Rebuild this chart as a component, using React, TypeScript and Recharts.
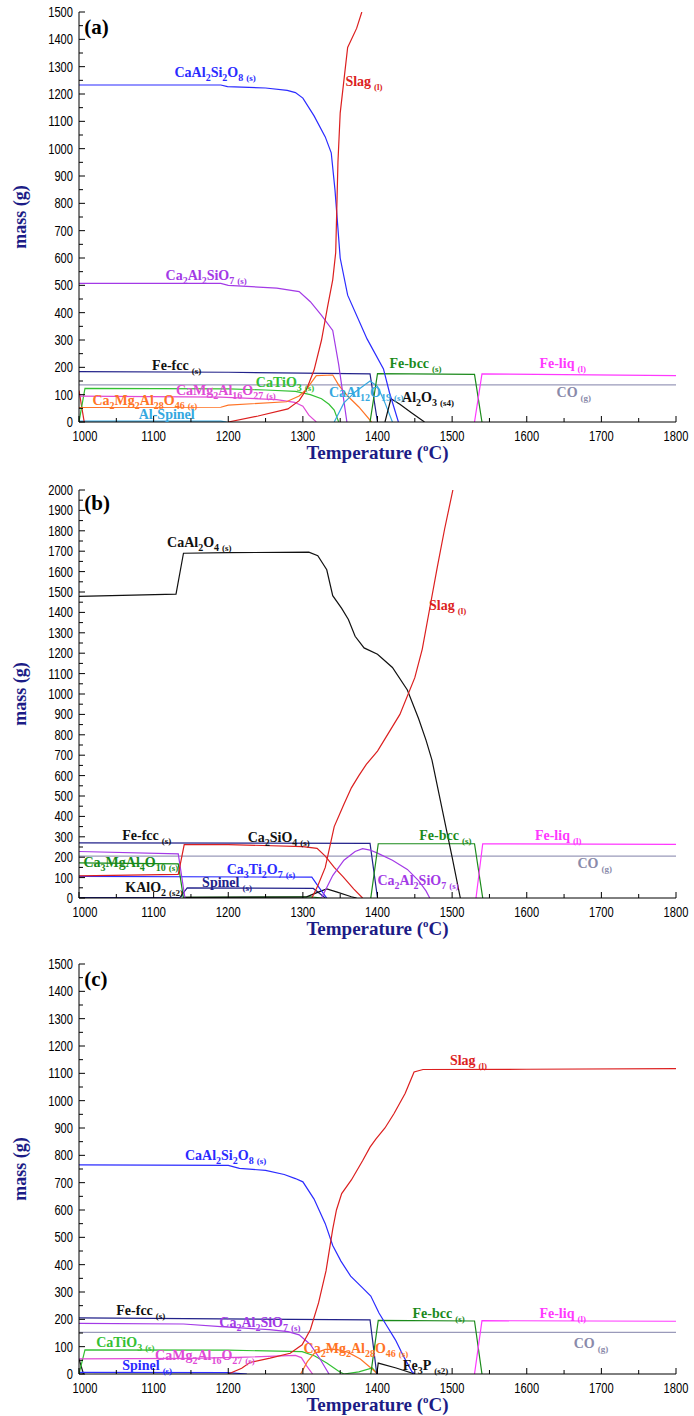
import React from 'react';
import { LineChart, Line, XAxis, YAxis, ReferenceDot } from 'recharts';

type Pt = [number, number];

// ---------- tick values ----------
const xMajor = [1000, 1100, 1200, 1300, 1400, 1500, 1600, 1700, 1800];
const yMajor1500 = [0, 100, 200, 300, 400, 500, 600, 700, 800, 900, 1000, 1100, 1200, 1300, 1400, 1500];
const yMajor2000 = [0, 100, 200, 300, 400, 500, 600, 700, 800, 900, 1000, 1100, 1200, 1300, 1400, 1500, 1600, 1700, 1800, 1900, 2000];

// ---------- panel (a) ----------
const a_CaAl2Si2O8: Pt[] = [[1000, 1233], [1190, 1233], [1199, 1227], [1250, 1222], [1279, 1213], [1290, 1205], [1300, 1185], [1315, 1120], [1330, 1043], [1338, 985], [1343, 850], [1350, 600], [1360, 464], [1386, 304], [1408, 194], [1416, 108], [1428, 0]];
const a_SlagLow: Pt[] = [[1000, 115], [1007, 0]];
const a_Slag: Pt[] = [[1200, 0], [1240, 22], [1280, 48], [1295, 78], [1305, 120], [1315, 190], [1325, 300], [1333, 420], [1340, 520], [1344, 620], [1347, 950], [1350, 1130], [1360, 1370], [1372, 1440], [1379, 1500]];
const a_Ca2Al2SiO7: Pt[] = [[1000, 507], [1190, 507], [1200, 500], [1265, 490], [1295, 477], [1310, 440], [1325, 390], [1340, 335], [1348, 210], [1359, 0]];
const a_FeFcc: Pt[] = [[1000, 184], [1200, 182], [1300, 179], [1390, 176], [1400, 0]];
const a_FeBcc: Pt[] = [[1390, 0], [1400, 177], [1530, 174], [1540, 0]];
const a_FeLiq: Pt[] = [[1530, 0], [1540, 176], [1800, 170]];
const a_CO: Pt[] = [[1000, 136], [1800, 136]];
const a_CaTiO3: Pt[] = [[1000, 0], [1008, 123], [1200, 121], [1250, 117], [1290, 112], [1310, 100], [1325, 85], [1335, 65], [1342, 44], [1348, 0]];
const a_CaMg2Al16O27: Pt[] = [[1000, 95], [1190, 91], [1265, 82], [1289, 72], [1300, 58], [1308, 25], [1318, 0]];
const a_Ca2Mg2Al28O46: Pt[] = [[1000, 53], [1190, 54], [1200, 62], [1278, 74], [1295, 95], [1305, 120], [1318, 170], [1340, 172], [1348, 135], [1360, 95], [1375, 55], [1392, 0]];
const a_AlSpinel: Pt[] = [[1000, 3], [1190, 3], [1198, 0]];
const a_CaAl12O19: Pt[] = [[1342, 0], [1355, 70], [1370, 110], [1390, 150], [1400, 130], [1410, 70], [1420, 0]];
const a_Al2O3: Pt[] = [[1410, 0], [1418, 85], [1430, 65], [1445, 35], [1463, 0]];

// ---------- panel (b) ----------
const b_CaAl2O4: Pt[] = [[1000, 1479], [1130, 1490], [1140, 1690], [1200, 1693], [1308, 1695], [1320, 1678], [1332, 1609], [1340, 1482], [1352, 1420], [1361, 1365], [1370, 1283], [1382, 1226], [1400, 1195], [1420, 1130], [1440, 1020], [1455, 880], [1465, 774], [1473, 676], [1500, 200], [1511, 0]];
const b_Slag: Pt[] = [[1312, 0], [1320, 60], [1330, 150], [1342, 350], [1355, 460], [1365, 540], [1375, 600], [1385, 655], [1400, 720], [1410, 780], [1430, 900], [1450, 1080], [1460, 1220], [1471, 1440], [1480, 1620], [1490, 1810], [1501, 2000]];
const b_FeFcc: Pt[] = [[1000, 270], [1390, 268], [1400, 0]];
const b_Ca2SiO4: Pt[] = [[1000, 108], [1133, 116], [1141, 262], [1200, 262], [1300, 252], [1319, 243], [1330, 205], [1342, 150], [1354, 104], [1368, 45], [1380, 0]];
const b_Ca2Al2SiO7Low: Pt[] = [[1000, 228], [1133, 216], [1142, 0]];
const b_Ca2Al2SiO7: Pt[] = [[1325, 0], [1340, 110], [1355, 185], [1370, 228], [1380, 242], [1390, 235], [1400, 220], [1420, 185], [1440, 140], [1455, 85], [1465, 35], [1470, 0]];
const b_Ca3MgAl4O10: Pt[] = [[1000, 172], [1133, 167], [1140, 0]];
const b_Ca3MgAl4O10Trace: Pt[] = [[1140, 3], [1310, 6], [1325, 0]];
const b_Ca3Ti2O7: Pt[] = [[1000, 106], [1312, 102], [1322, 50], [1332, 0]];
const b_Spinel: Pt[] = [[1000, 2], [1135, 2], [1145, 50], [1314, 47], [1330, 0]];
const b_KAlO2: Pt[] = [[1140, 3], [1305, 6], [1318, 25], [1332, 45], [1345, 30], [1365, 6], [1372, 0]];
const b_FeBcc: Pt[] = [[1391, 0], [1401, 266], [1530, 266], [1541, 0]];
const b_FeLiq: Pt[] = [[1532, 0], [1541, 266], [1800, 263]];
const b_CO: Pt[] = [[1000, 205], [1800, 205]];

// ---------- panel (c) ----------
const c_Slag: Pt[] = [[1200, 0], [1218, 21], [1229, 42], [1256, 58], [1283, 76], [1299, 107], [1310, 162], [1321, 260], [1331, 377], [1340, 530], [1345, 600], [1352, 660], [1365, 710], [1380, 780], [1390, 830], [1398, 860], [1410, 900], [1422, 952], [1437, 1026], [1449, 1105], [1461, 1114], [1600, 1115], [1800, 1117]];
const c_CaAl2Si2O8: Pt[] = [[1000, 765], [1200, 763], [1215, 752], [1250, 745], [1275, 730], [1290, 715], [1300, 703], [1315, 640], [1330, 550], [1340, 470], [1351, 413], [1364, 358], [1380, 315], [1391, 285], [1402, 223], [1413, 174], [1424, 125], [1435, 64], [1446, 9], [1450, 0]];
const c_FeFcc: Pt[] = [[1000, 205], [1390, 198], [1399, 0]];
const c_Ca2Al2SiO7: Pt[] = [[1000, 185], [1140, 183], [1190, 173], [1255, 162], [1280, 155], [1295, 143], [1310, 108], [1323, 55], [1335, 0]];
const c_CaTiO3: Pt[] = [[1000, 0], [1008, 88], [1200, 87], [1299, 82], [1316, 66], [1332, 40], [1348, 10], [1355, 0], [1375, 8], [1393, 22], [1400, 0]];
const c_CaMg2Al16O27: Pt[] = [[1000, 55], [1150, 57], [1225, 62], [1290, 68], [1298, 60], [1305, 30], [1313, 0]];
const c_Ca2Mg2Al28O46: Pt[] = [[1297, 0], [1306, 45], [1315, 75], [1330, 90], [1345, 90], [1360, 80], [1377, 55], [1390, 25], [1400, 0]];
const c_Spinel: Pt[] = [[1000, 6], [1200, 5], [1225, 0]];
const c_Fe3P: Pt[] = [[1399, 0], [1401, 40], [1425, 22], [1450, 0]];
const c_Trace: Pt[] = [[1000, 55], [1006, 0]];
const c_FeBcc: Pt[] = [[1391, 0], [1401, 196], [1530, 194], [1540, 0]];
const c_FeLiq: Pt[] = [[1530, 0], [1540, 195], [1800, 193]];
const c_CO: Pt[] = [[1000, 152], [1800, 152]];

// ---------- styles ----------
const NAVY = '#1c1c86';
const BLUE = '#2b2bff';
const RED = '#dc1f1f';
const PURPLE = '#a33ae6';
const FCC = '#22228a';
const BCC = '#1b8a1b';
const LIQ = '#ff38ff';
const COC = '#9a9aba';
const COL = '#8a8aaa';
const TIO = '#33c033';
const PINK = '#e04ad6';
const ORANGE = '#ff7426';
const LBLUE = '#35a8e0';
const BLACK = '#111111';
const DGREEN = '#148c14';

type Series = { d: Pt[]; c: string };
type Lab = { t: number; m: number; f: string; ph?: string; c: string };

const seriesA: Series[] = [
  { d: a_CO, c: COC },
  { d: a_AlSpinel, c: LBLUE },
  { d: a_SlagLow, c: RED },
  { d: a_CaTiO3, c: TIO },
  { d: a_CaMg2Al16O27, c: PINK },
  { d: a_Ca2Mg2Al28O46, c: ORANGE },
  { d: a_FeFcc, c: FCC },
  { d: a_Ca2Al2SiO7, c: PURPLE },
  { d: a_CaAl12O19, c: LBLUE },
  { d: a_Al2O3, c: BLACK },
  { d: a_FeBcc, c: BCC },
  { d: a_FeLiq, c: LIQ },
  { d: a_CaAl2Si2O8, c: BLUE },
  { d: a_Slag, c: RED },
];
const labelsA: Lab[] = [
  { t: 1128, m: 1262, f: 'CaAl2Si2O8', ph: '(s)', c: BLUE },
  { t: 1357, m: 1229, f: 'Slag', ph: '(l)', c: RED },
  { t: 1116, m: 520, f: 'Ca2Al2SiO7', ph: '(s)', c: PURPLE },
  { t: 1098, m: 192, f: 'Fe-fcc', ph: '(s)', c: BLACK },
  { t: 1237, m: 127, f: 'CaTiO3', ph: '(s)', c: TIO },
  { t: 1130, m: 99, f: 'CaMg2Al16O27', ph: '(s)', c: PINK },
  { t: 1018, m: 62, f: 'Ca2Mg2Al28O46', ph: '(s)', c: ORANGE },
  { t: 1080, m: 10, f: 'Al-Spinel', c: LBLUE },
  { t: 1335, m: 90, f: 'CaAl12O19', ph: '(s)', c: LBLUE },
  { t: 1433, m: 74, f: 'Al2O3', ph: '(s4)', c: BLACK },
  { t: 1416, m: 198, f: 'Fe-bcc', ph: '(s)', c: BCC },
  { t: 1617, m: 198, f: 'Fe-liq', ph: '(l)', c: LIQ },
  { t: 1640, m: 92, f: 'CO', ph: '(g)', c: COL },
];

const seriesB: Series[] = [
  { d: b_CO, c: COC },
  { d: b_Spinel, c: FCC },
  { d: b_Ca3MgAl4O10Trace, c: DGREEN },
  { d: b_KAlO2, c: BLACK },
  { d: b_Ca3Ti2O7, c: BLUE },
  { d: b_Ca3MgAl4O10, c: DGREEN },
  { d: b_Ca2Al2SiO7Low, c: PURPLE },
  { d: b_Ca2SiO4, c: RED },
  { d: b_FeFcc, c: FCC },
  { d: b_Ca2Al2SiO7, c: PURPLE },
  { d: b_FeBcc, c: BCC },
  { d: b_FeLiq, c: LIQ },
  { d: b_CaAl2O4, c: BLACK },
  { d: b_Slag, c: RED },
];
const labelsB: Lab[] = [
  { t: 1118, m: 1720, f: 'CaAl2O4', ph: '(s)', c: BLACK },
  { t: 1469, m: 1414, f: 'Slag', ph: '(l)', c: RED },
  { t: 1058, m: 284, f: 'Fe-fcc', ph: '(s)', c: BLACK },
  { t: 1226, m: 274, f: 'Ca2SiO4', ph: '(s)', c: BLACK },
  { t: 1456, m: 286, f: 'Fe-bcc', ph: '(s)', c: BCC },
  { t: 1611, m: 286, f: 'Fe-liq', ph: '(l)', c: LIQ },
  { t: 1668, m: 148, f: 'CO', ph: '(g)', c: COL },
  { t: 1006, m: 153, f: 'Ca3MgAl4O10', ph: '(s)', c: BCC },
  { t: 1198, m: 118, f: 'Ca3Ti2O7', ph: '(s)', c: BLUE },
  { t: 1165, m: 55, f: 'Spinel', ph: '(s)', c: FCC },
  { t: 1062, m: 28, f: 'KAlO2', ph: '(s2)', c: BLACK },
  { t: 1400, m: 62, f: 'Ca2Al2SiO7', ph: '(s)', c: PURPLE },
];

const seriesC: Series[] = [
  { d: c_CO, c: COC },
  { d: c_Trace, c: BLACK },
  { d: c_Spinel, c: BLUE },
  { d: c_CaTiO3, c: TIO },
  { d: c_CaMg2Al16O27, c: PINK },
  { d: c_Ca2Al2SiO7, c: PURPLE },
  { d: c_Ca2Mg2Al28O46, c: ORANGE },
  { d: c_FeFcc, c: FCC },
  { d: c_Fe3P, c: BLACK },
  { d: c_FeBcc, c: BCC },
  { d: c_FeLiq, c: LIQ },
  { d: c_CaAl2Si2O8, c: BLUE },
  { d: c_Slag, c: RED },
];
const labelsC: Lab[] = [
  { t: 1142, m: 783, f: 'CaAl2Si2O8', ph: '(s)', c: BLUE },
  { t: 1497, m: 1130, f: 'Slag', ph: '(l)', c: RED },
  { t: 1050, m: 215, f: 'Fe-fcc', ph: '(s)', c: BLACK },
  { t: 1188, m: 172, f: 'Ca2Al2SiO7', ph: '(s)', c: PURPLE },
  { t: 1023, m: 97, f: 'CaTiO3', ph: '(s)', c: TIO },
  { t: 1102, m: 53, f: 'CaMg2Al16O27', ph: '(s)', c: PINK },
  { t: 1058, m: 14, f: 'Spinel', ph: '(s)', c: BLUE },
  { t: 1301, m: 76, f: 'Ca2Mg2Al28O46', ph: '(s)', c: ORANGE },
  { t: 1434, m: 13, f: 'Fe3P', ph: '(s2)', c: BLACK },
  { t: 1447, m: 205, f: 'Fe-bcc', ph: '(s)', c: BCC },
  { t: 1617, m: 205, f: 'Fe-liq', ph: '(l)', c: LIQ },
  { t: 1663, m: 96, f: 'CO', ph: '(g)', c: COL },
];

const SERIF = '"Liberation Serif", "Times New Roman", serif';
const SANS = '"Liberation Sans", Arial, sans-serif';

const withMinor = (maj: number[]) => maj.flatMap((v, i) => (i < maj.length - 1 ? [v, v + 50] : [v]));
const xTicks = withMinor(xMajor);

function ChemText({ x, y, f, ph, c, size = 14 }: { x: number; y: number; f: string; ph?: string; c: string; size?: number }) {
  const runs = f.match(/[0-9]+|[^0-9]+/g) || [];
  let off = 0;
  const parts: React.ReactNode[] = [];
  runs.forEach((r, i) => {
    const isNum = /^[0-9]+$/.test(r);
    const target = isNum ? 4 : 0;
    const dy = target - off;
    off = target;
    parts.push(
      <tspan key={i} dy={dy} fontSize={isNum ? 10 : size}>
        {r}
      </tspan>
    );
  });
  if (ph) {
    const dy = 4 - off;
    parts.push(
      <tspan key="ph" dx={3} dy={dy} fontSize={9}>
        {ph}
      </tspan>
    );
  }
  return (
    <text x={x} y={y} fill={c} fontFamily={SERIF} fontWeight="bold" fontSize={size}>
      {parts}
    </text>
  );
}

const tickLen = (v: number) => (v % 100 === 0 ? 6 : 4);

function BottomTick(props: any) {
  const { x, y, payload } = props;
  const v = payload.value as number;
  const major = v % 100 === 0;
  const s = String(v);
  return (
    <g>
      <line x1={x} x2={x} y1={y} y2={y - tickLen(v)} stroke="#000" strokeWidth={1} />
      {major && (
        <text x={x + (v === 1000 ? 6 : 0)} y={y + 19} textAnchor="middle" fontFamily={SANS} fontSize={14} textLength={s.length * 6.2} lengthAdjust="spacingAndGlyphs" fill="#000">
          {s}
        </text>
      )}
    </g>
  );
}
function TopTick(props: any) {
  const { x, y, payload } = props;
  const v = payload.value as number;
  return <line x1={x} x2={x} y1={y} y2={y + tickLen(v)} stroke="#000" strokeWidth={1} />;
}
function LeftTick(props: any) {
  const { x, y, payload } = props;
  const v = payload.value as number;
  const major = v % 100 === 0;
  const s = String(v);
  return (
    <g>
      <line x1={x} x2={x + tickLen(v)} y1={y} y2={y} stroke="#000" strokeWidth={1} />
      {major && (
        <text x={x - 6} y={y + 5} textAnchor="end" fontFamily={SANS} fontSize={14} textLength={s.length * 6.2} lengthAdjust="spacingAndGlyphs" fill="#000">
          {s}
        </text>
      )}
    </g>
  );
}
function RightTick(props: any) {
  const { x, y, payload } = props;
  const v = payload.value as number;
  return <line x1={x} x2={x - tickLen(v)} y1={y} y2={y} stroke="#000" strokeWidth={1} />;
}

const yTitle = (p: any) => {
  const vb = p.viewBox || {};
  const cy = vb.y + vb.height / 2;
  return (
    <text x={20} y={cy} transform={`rotate(-90, 20, ${cy})`} textAnchor="middle" dominantBaseline="central" fontFamily={SERIF} fontWeight="bold" fontSize={18} fill={NAVY}>
      mass (g)
    </text>
  );
};
const xTitle = (p: any) => {
  const vb = p.viewBox || {};
  const cx = vb.x + vb.width / 2;
  return (
    <text x={cx} y={vb.y + 37} textAnchor="middle" fontFamily={SERIF} fontWeight="bold" fontSize={19} fill={NAVY}>
      Temperature (
      <tspan fontSize={11} dy={-8}>
        o
      </tspan>
      <tspan dy={8}>C)</tspan>
    </text>
  );
};

function Panel({ top, mt, plotH, yMax, yMajor, series, labels, tag, tagM }: { top: number; mt: number; plotH: number; yMax: number; yMajor: number[]; series: Series[]; labels: Lab[]; tag: string; tagM: number }) {
  const H = mt + plotH + 43;
  const yTicks = withMinor(yMajor);
  return (
    <div style={{ position: 'absolute', left: 0, top }}>
      <LineChart width={694} height={H} margin={{ top: mt, right: 18, bottom: 0, left: 0 }}>
        <XAxis xAxisId="b" type="number" dataKey="t" domain={[1000, 1800]} ticks={xTicks} interval={0} allowDataOverflow orientation="bottom" height={43} tickLine={false} tickSize={0} tickMargin={0} axisLine={{ stroke: '#000', strokeWidth: 1 }} tick={BottomTick} label={xTitle} />
        <XAxis xAxisId="t" type="number" dataKey="t" domain={[1000, 1800]} ticks={xTicks} interval={0} allowDataOverflow orientation="top" height={0} tickLine={false} tickSize={0} tickMargin={0} axisLine={{ stroke: '#000', strokeWidth: 1 }} tick={TopTick} />
        <YAxis yAxisId="l" type="number" dataKey="m" domain={[0, yMax]} ticks={yTicks} interval={0} allowDataOverflow orientation="left" width={79} tickLine={false} tickSize={0} tickMargin={0} axisLine={{ stroke: '#000', strokeWidth: 1 }} tick={LeftTick} label={yTitle} />
        <YAxis yAxisId="r" type="number" dataKey="m" domain={[0, yMax]} ticks={yTicks} interval={0} allowDataOverflow orientation="right" width={0} tickLine={false} tickSize={0} tickMargin={0} axisLine={{ stroke: '#000', strokeWidth: 1 }} tick={RightTick} />
        {series.map((s, i) => (
          <Line key={i} xAxisId="b" yAxisId="l" data={s.d.map(([t, m]) => ({ t, m }))} dataKey="m" type="linear" stroke={s.c} strokeWidth={1.2} dot={false} activeDot={false} isAnimationActive={false} />
        ))}
        {labels.map((l, i) => (
          <ReferenceDot key={'l' + i} xAxisId="b" yAxisId="l" x={l.t} y={l.m} r={0.01} fill="none" stroke="none" ifOverflow="visible" label={(p: any) => <ChemText x={p.viewBox.x} y={p.viewBox.y} f={l.f} ph={l.ph} c={l.c} />} />
        ))}
        <ReferenceDot xAxisId="b" yAxisId="l" x={1007} y={tagM} r={0.01} fill="none" stroke="none" ifOverflow="visible" label={(p: any) => (
          <text x={p.viewBox.x} y={p.viewBox.y} fontFamily={SERIF} fontWeight="bold" fontSize={21} fill="#000">
            {tag}
          </text>
        )} />
      </LineChart>
    </div>
  );
}

export default function App() {
  return (
    <div style={{ position: 'absolute', left: 0, top: 0, width: 694, height: 1416, background: '#fff' }}>
      <Panel top={0} mt={12} plotH={410} yMax={1500} yMajor={yMajor1500} series={seriesA} labels={labelsA} tag="(a)" tagM={1420} />
      <Panel top={475} mt={15} plotH={408} yMax={2000} yMajor={yMajor2000} series={seriesB} labels={labelsB} tag="(b)" tagM={1900} />
      <Panel top={950} mt={14} plotH={410} yMax={1500} yMajor={yMajor1500} series={seriesC} labels={labelsC} tag="(c)" tagM={1420} />
    </div>
  );
}
